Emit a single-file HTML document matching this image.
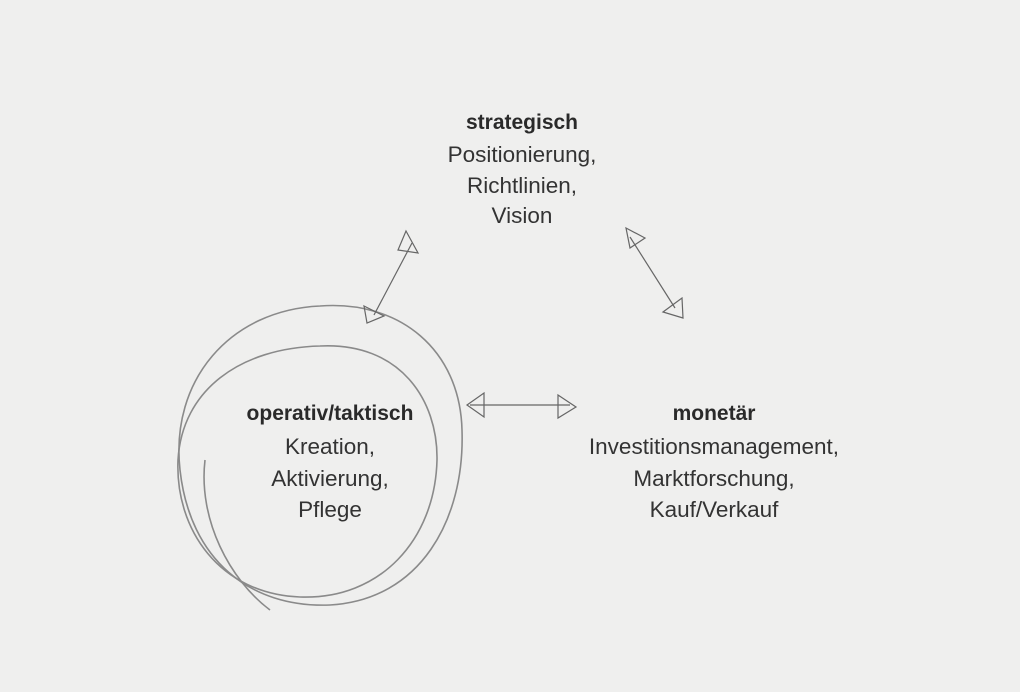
<!DOCTYPE html>
<html><head><meta charset="utf-8"><style>
html,body{margin:0;padding:0;background:#efefee;}
svg{display:block}
text{font-family:"Liberation Sans",Arial,sans-serif;font-size:22.5px;fill:#333;text-anchor:middle}
.b{font-weight:bold;fill:#2a2a2a;font-size:21px}
</style></head><body>
<svg width="1020" height="692" viewBox="0 0 1020 692" xmlns="http://www.w3.org/2000/svg">
<rect width="1020" height="692" fill="#efefee"/>
<text x="522" y="129" class="b">strategisch</text>
<text x="522" y="162">Positionierung,</text>
<text x="522" y="193">Richtlinien,</text>
<text x="522" y="223">Vision</text>
<text x="330" y="420" class="b">operativ/taktisch</text>
<text x="330" y="454">Kreation,</text>
<text x="330" y="486">Aktivierung,</text>
<text x="330" y="517">Pflege</text>
<text x="714" y="420" class="b">monetär</text>
<text x="714" y="454">Investitionsmanagement,</text>
<text x="714" y="486">Marktforschung,</text>
<text x="714" y="517">Kauf/Verkauf</text>
<g fill="none" stroke="#8a8a8a" stroke-width="1.6">
<path d="M320,306 C400,300 460,350 462,430 C465,520 420,600 330,605 C250,608 190,560 180,470 C170,380 230,310 320,306 Z"/>
<path d="M320,346 C400,342 438,400 437,460 C435,540 380,600 300,597 C220,594 175,530 178,460 C182,390 240,348 320,346 Z"/>
<path d="M205,460 C198,520 230,580 270,610"/>
</g>
<g fill="none" stroke="#666" stroke-width="1.2">
<line x1="374" y1="315" x2="412" y2="243"/>
<path d="M406,231 L418,253 L398,250 Z"/>
<path d="M364,306 L384,316 L367,323 Z"/>
<line x1="630" y1="237" x2="675" y2="308"/>
<path d="M626,228 L645,238 L630,248 Z"/>
<path d="M663,312 L682,298 L683,318 Z"/>
<line x1="470" y1="405" x2="570" y2="405"/>
<path d="M467,405 L484,393 L484,417 Z"/>
<path d="M576,407 L558,395 L558,418 Z"/>
</g>
</svg>
</body></html>
